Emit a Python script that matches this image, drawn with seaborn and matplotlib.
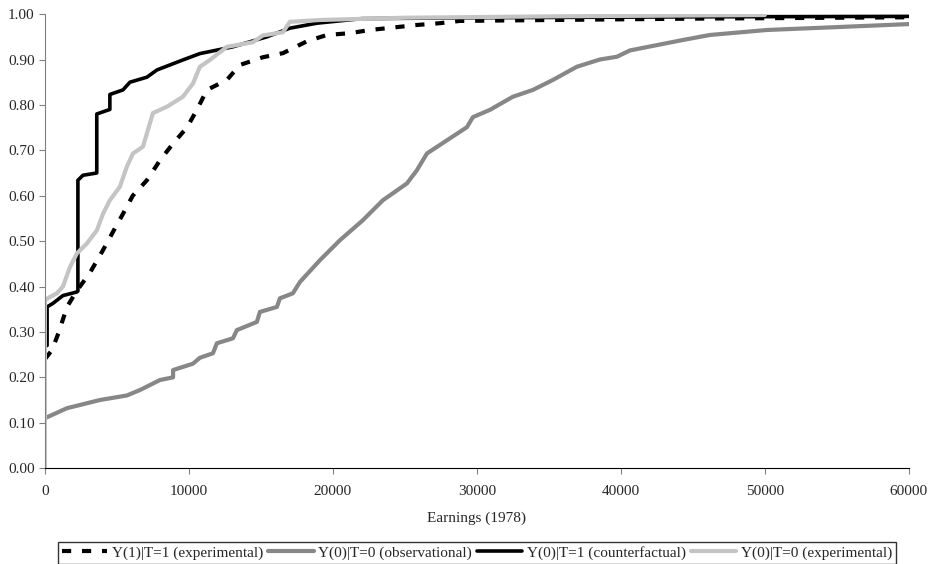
import matplotlib
matplotlib.use("Agg")
import matplotlib.pyplot as plt
import seaborn as sns
import pandas as pd

# Earnings CDFs
exp_t1_x = [0, 490, 970, 1530, 2200, 3120, 4030, 4720, 5420, 6100, 7080, 7990, 8900, 9860,
            10550, 11250, 12640, 13540, 15140, 16530, 18190, 19580, 21180, 22570, 25830,
            27430, 28820, 35000, 45000, 60000]
exp_t1_y = [0.24, 0.26, 0.30, 0.355, 0.39, 0.43, 0.48, 0.52, 0.56, 0.60, 0.634, 0.678, 0.715, 0.75,
            0.789, 0.833, 0.855, 0.888, 0.905, 0.914, 0.94, 0.954, 0.958, 0.965, 0.976,
            0.98, 0.985, 0.987, 0.99, 0.993]

obs_c_x = [0, 140, 1530, 3820, 5690, 6600, 7990, 8900, 8900, 10280, 10760, 11670, 11940, 13060,
           13330, 14720, 14930, 16110, 16320, 17220, 17710, 19100, 20490, 22080, 23470, 25140,
           25830, 26530, 27920, 29310, 29720, 30900, 32500, 33890, 35280, 36940, 38540, 39720,
           40630, 43190, 44310, 46180, 50140, 54720, 60000]
obs_c_y = [0.11, 0.112, 0.132, 0.15, 0.16, 0.172, 0.194, 0.20, 0.216, 0.23, 0.243, 0.253, 0.275, 0.286,
           0.304, 0.322, 0.344, 0.355, 0.374, 0.385, 0.41, 0.458, 0.502, 0.546, 0.59, 0.627,
           0.656, 0.693, 0.722, 0.751, 0.773, 0.789, 0.818, 0.833, 0.855, 0.884, 0.90, 0.906,
           0.92, 0.936, 0.943, 0.954, 0.965, 0.971, 0.978]

cf_t1_x = [150, 150, 560, 1250, 2220, 2290, 2290, 2640, 3600, 3600, 4510, 4510, 5420, 5900, 7080,
           7780, 9580, 10760, 13060, 15420, 17010, 18890, 22000, 30000, 45000, 60000]
cf_t1_y = [0.27, 0.355, 0.363, 0.38, 0.388, 0.39, 0.634, 0.645, 0.65, 0.78, 0.79, 0.823, 0.833, 0.85, 0.861,
           0.877, 0.899, 0.913, 0.928, 0.95, 0.969, 0.98, 0.99, 0.992, 0.994, 0.995]

exp_c_x = [0, 0, 350, 830, 1250, 1740, 2220, 2920, 3610, 4030, 4510, 5210, 5690, 6110, 6810,
           7500, 8470, 9580, 10280, 10760, 11460, 12640, 14440, 15140, 16530, 17010, 19100,
           25000, 35000, 50000]
exp_c_y = [0.0, 0.37, 0.377, 0.385, 0.40, 0.443, 0.473, 0.495, 0.524, 0.56, 0.59, 0.62, 0.664, 0.693, 0.708,
           0.782, 0.796, 0.818, 0.847, 0.884, 0.899, 0.928, 0.938, 0.953, 0.96, 0.983, 0.987,
           0.992, 0.995, 0.998]

labels = ["Y(1)|T=1 (experimental)", "Y(0)|T=0 (observational)",
          "Y(0)|T=1 (counterfactual)", "Y(0)|T=0 (experimental)"]

sns.set_style("white")
plt.rcParams["font.family"] = ["Liberation Serif", "DejaVu Serif"]

fig = plt.figure(figsize=(9.36, 5.64), dpi=100)
ax = fig.add_axes([0.048, 0.170, 0.923, 0.805])

series = [
    (exp_t1_x, exp_t1_y, dict(color="black", lw=3, dashes=(2.2, 2.6))),
    (obs_c_x, obs_c_y, dict(color="#878787", lw=3)),
    (cf_t1_x, cf_t1_y, dict(color="black", lw=2.6)),
    (exp_c_x, exp_c_y, dict(color="#c4c4c4", lw=3)),
]
for (x, y, kw), lab in zip(series, labels):
    df = pd.DataFrame({"x": x, "y": y})
    sns.lineplot(data=df, x="x", y="y", sort=False, estimator=None, ax=ax, label=lab, **kw)

ax.set_xlim(0, 60000)
ax.set_ylim(0, 1)
ax.set_xticks(range(0, 60001, 10000))
ax.set_yticks([i / 10 for i in range(11)])
ax.set_yticklabels([f"{i / 10:.2f}" for i in range(11)])
ax.tick_params(labelsize=11, length=4, color="#808080", direction="out", left=True, bottom=True)
ax.tick_params(axis="x", pad=8)
for s in ["top", "right"]:
    ax.spines[s].set_visible(False)
ax.spines["left"].set_color("#808080")
ax.spines["bottom"].set_color("black")
ax.set_xlabel("Earnings (1978)", fontsize=11, labelpad=10)
ax.set_ylabel("")

leg = ax.legend(loc="upper center", bbox_to_anchor=(0.5, -0.163), ncol=4, fontsize=11,
                frameon=True, fancybox=False, edgecolor="black", handlelength=3.0,
                handletextpad=0.3, columnspacing=0.3, borderpad=0.25, borderaxespad=0)
leg.get_frame().set_linewidth(1.0)

fig.savefig("out.png", dpi=100)
